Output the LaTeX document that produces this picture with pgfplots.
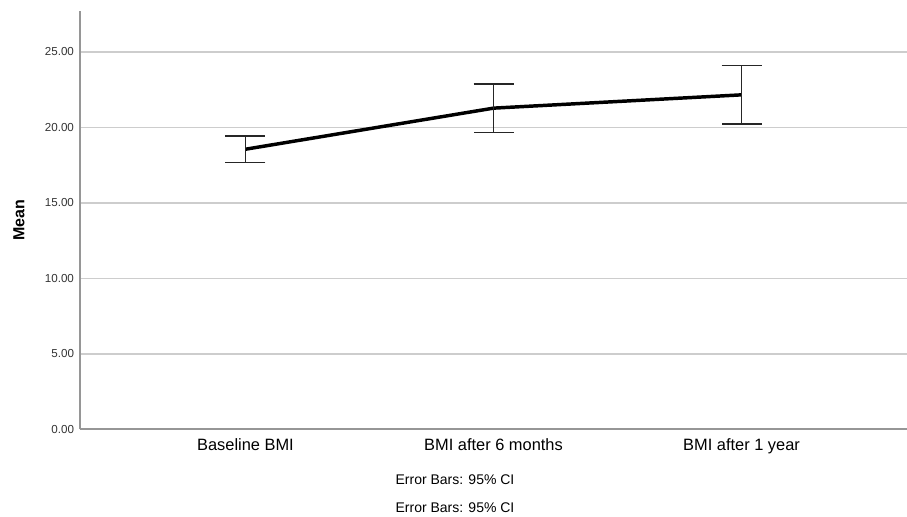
\documentclass[border=0pt]{standalone}
\usepackage{pgfplots}
\pgfplotsset{compat=1.18}
\usepackage{fontspec}
\setmainfont{Liberation Sans}
\definecolor{axisgray}{RGB}{150,150,150}
\definecolor{gridgray}{RGB}{205,205,205}
\begin{document}
\begin{tikzpicture}
% overall frame: 907 x 517 px at 0.75pt per px
\path[use as bounding box] (-60pt,-65.625pt) rectangle (620.25pt,322.125pt);
\begin{axis}[
    scale only axis,
    width=620.25pt, height=313.875pt,
    xmin=-0.667, xmax=2.667,
    ymin=0, ymax=27.7,
    axis lines*=left,
    axis line style={axisgray, line width=1.5pt},
    ymajorgrids,
    grid style={gridgray, line width=1.1pt},
    major tick length=0pt,
    xtick={0,1,2},
    xticklabels={Baseline BMI, BMI after 6 months, BMI after 1 year},
    ytick={0,5,10,15,20,25},
    yticklabel={\pgfmathprintnumber[fixed,fixed zerofill,precision=2]{\tick}},
    /pgf/number format/assume math mode=true,
    yticklabel style={font=\fontsize{8.7}{10}\selectfont, xshift=-1pt, text=black!80},
    xticklabel style={font=\fontsize{12.3}{14}\selectfont, yshift=-3pt},
    clip=false,
]
\addplot[black, line width=2.6pt, mark=none,
    error bars/.cd, y dir=both, y explicit,
    error mark options={rotate=90, mark size=15pt, line width=1.2pt, black!85},
    error bar style={line width=1.3pt, black!85}]
  coordinates {
    (0,18.55) +- (0,0.885)
    (1,21.27) +- (0,1.61)
    (2,22.15) +- (0,1.93)
  };
\end{axis}
\node[rotate=90, font=\bfseries\fontsize{12}{14}\selectfont] at (-45.75pt,156.9pt) {Mean};
\node[font=\fontsize{10.5}{12}\selectfont] at (281.25pt,-37.9pt) {Error Bars: 95\% CI};
\node[font=\fontsize{10.5}{12}\selectfont] at (281.25pt,-58.9pt) {Error Bars: 95\% CI};
\end{tikzpicture}
\end{document}
